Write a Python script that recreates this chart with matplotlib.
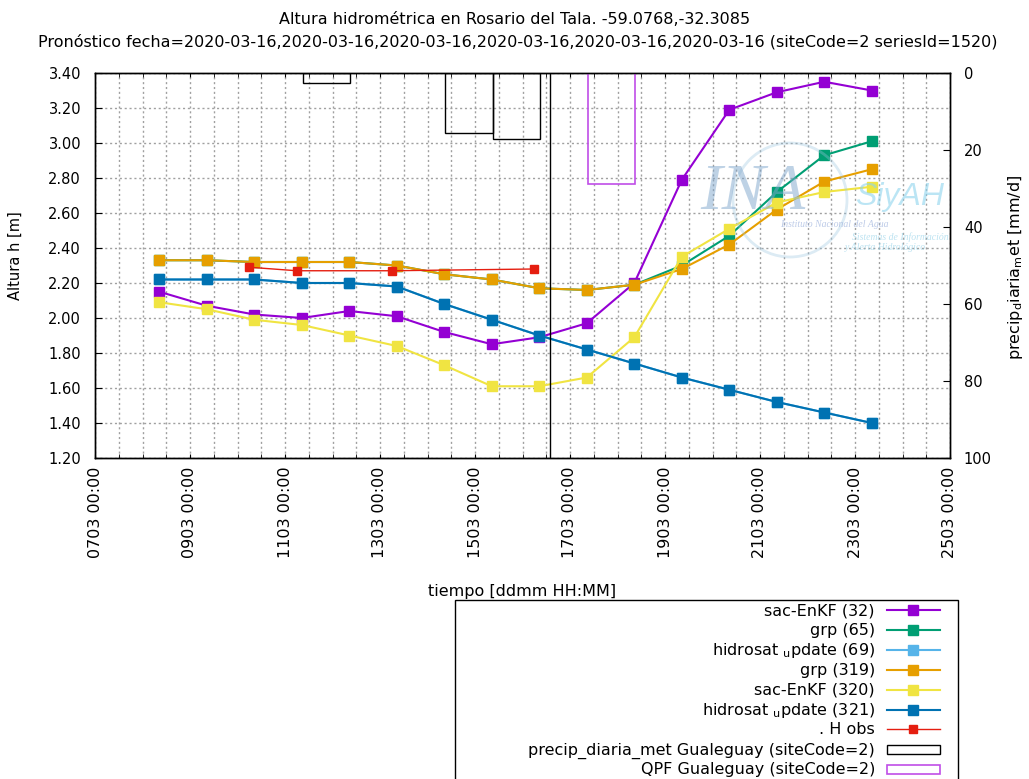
# -*- coding: utf-8 -*-
import numpy as np
import pandas as pd
import matplotlib
matplotlib.use('Agg')
from matplotlib import pyplot as plt
import matplotlib.dates as mdates
from matplotlib.lines import Line2D
from matplotlib.patches import Rectangle, Ellipse

# pronosticos (pasos diarios)
fechas = pd.date_range('2020-03-08 08:30', periods=16, freq='D')

sac_32 = [2.15, 2.07, 2.02, 2.00, 2.04, 2.01, 1.92, 1.85, 1.89, 1.97, 2.20, 2.79, 3.19, 3.29, 3.35, 3.30]
grp_319 = [2.33, 2.33, 2.32, 2.32, 2.32, 2.30, 2.25, 2.22, 2.17, 2.16, 2.19, 2.28, 2.42, 2.62, 2.78, 2.85]
grp_65 = grp_319[:11] + [2.30, 2.47, 2.72, 2.93, 3.01]
sac_320 = [2.09, 2.05, 1.99, 1.96, 1.90, 1.84, 1.73, 1.61, 1.61, 1.66, 1.89, 2.35, 2.51, 2.66, 2.72, 2.75]
hs_321 = [2.22, 2.22, 2.22, 2.20, 2.20, 2.18, 2.08, 1.99, 1.90, 1.82, 1.74, 1.66, 1.59, 1.52, 1.46, 1.40]
hs_69 = list(hs_321)

# observados
obs_fechas = pd.to_datetime(['2020-03-10 06:00', '2020-03-11 06:00', '2020-03-13 06:00', '2020-03-16 06:00'])
h_obs = [2.29, 2.27, 2.27, 2.28]

# precipitacion diaria (inicio del intervalo)
pp_inicio = pd.to_datetime(['2020-03-11 09:00', '2020-03-14 09:00', '2020-03-15 09:00'])
pp_mm = [2.7, 15.7, 17.1]
qpf_inicio = pd.to_datetime(['2020-03-17 09:00'])
qpf_mm = [28.8]

fecha_pronostico = pd.Timestamp('2020-03-16 13:50')

series = [
    ('sac-EnKF (32)', sac_32, '#9400d3'),
    ('grp (65)', grp_65, '#009e73'),
    (r'hidrosat $_{\rm u}$pdate (69)', hs_69, '#56b4e9'),
    ('grp (319)', grp_319, '#e69f00'),
    ('sac-EnKF (320)', sac_320, '#f0e442'),
    (r'hidrosat $_{\rm u}$pdate (321)', hs_321, '#0072b2'),
]
color_obs = '#e51e10'
color_qpf = '#c04ee8'

plt.rcParams['font.family'] = ['DejaVu Sans']
W, H = 1029, 779
fig = plt.figure(figsize=(W / 100, H / 100), dpi=100)
ax = fig.add_axes([95 / W, 1 - 458 / H, 855 / W, 385 / H])
ax2 = ax.twinx()

for nombre, vals, color in series:
    ax.plot(fechas, vals, color=color, lw=1.5, marker='s', ms=7, zorder=3)

ax.plot(obs_fechas, h_obs, color=color_obs, lw=1, marker='s', ms=6, zorder=4)
ax.axvline(fecha_pronostico, color='black', lw=1, zorder=5)

ax2.bar(pp_inicio, pp_mm, width=1.0, align='edge', fill=False, edgecolor='black', lw=1)
ax2.bar(qpf_inicio, qpf_mm, width=1.0, align='edge', fill=False, edgecolor=color_qpf, lw=1.2)

# ejes
ax.set_xlim(pd.Timestamp('2020-03-07'), pd.Timestamp('2020-03-25'))
ax.xaxis.set_major_locator(mdates.DayLocator(bymonthday=range(7, 26, 2)))
ax.xaxis.set_minor_locator(mdates.HourLocator(byhour=[0, 12]))
ax.xaxis.set_major_formatter(mdates.DateFormatter('%d%m %H:%M'))
ax.tick_params(axis='x', which='both', direction='in', top=True, labelrotation=90,
               labelsize=11.5, pad=6, length=3, color='black')
ax.set_ylim(1.2, 3.4)
ax.set_yticks(np.arange(1.2, 3.41, 0.2))
ax.yaxis.set_major_formatter(matplotlib.ticker.FormatStrFormatter('%.2f'))
ax.tick_params(axis='y', direction='in', right=False, labelsize=10.5, pad=10, length=5)

ax2.set_ylim(100, 0)
ax2.set_yticks(range(0, 101, 20))
ax2.tick_params(axis='y', direction='in', labelsize=10.5, pad=10, length=5)

ax.grid(which='both', axis='x', ls=(0, (1.5, 2)), color='#a0a0a0', lw=1)
ax.grid(which='major', axis='y', ls=(0, (1.5, 2)), color='#a0a0a0', lw=1)
for a in (ax, ax2):
    for s in a.spines.values():
        s.set_color('black')
        s.set_linewidth(1)

ax.set_xlabel('tiempo [ddmm HH:MM]', fontsize=11.5)
ax.xaxis.set_label_coords(0.5, -0.327)
ax.set_ylabel('Altura h [m]', fontsize=10.5)
ax.yaxis.set_label_coords(-0.085, 0.525)
ax2.set_ylabel(r'precip$_{\rm d}$iaria$_{\rm m}$et [mm/d]', fontsize=11.5)
ax2.yaxis.set_label_coords(1.066, 0.496)

fig.text(515 / W, 1 - 20 / H, 'Altura hidrométrica en Rosario del Tala. -59.0768,-32.3085',
         ha='center', va='center', fontsize=11.5)
fig.text(518 / W, 1 - 42 / H,
         'Pronóstico fecha=2020-03-16,2020-03-16,2020-03-16,2020-03-16,2020-03-16,2020-03-16 (siteCode=2 seriesId=1520)',
         ha='center', va='center', fontsize=11.5)

# marca de agua
fig.text(700 / W, 1 - 193 / H, 'INA', family='Liberation Serif', style='italic',
         fontsize=47, color='#7fa6cc', alpha=0.5, va='center', ha='left', zorder=10)
fig.text(855 / W, 1 - 197 / H, 'SiyAH', family='Liberation Sans', style='italic',
         fontsize=23, color='#8fd4ee', alpha=0.6, va='center', ha='left', zorder=10)
fig.text(780 / W, 1 - 225 / H, 'Instituto Nacional del Agua', family='Liberation Serif',
         style='italic', fontsize=7, color='#90a8d8', alpha=0.6, va='center', zorder=10)
fig.text(852 / W, 1 - 237 / H, 'Sistemas de Información', family='Liberation Serif',
         style='italic', fontsize=7, color='#90d0e8', alpha=0.6, va='center', zorder=10)
fig.text(845 / W, 1 - 248 / H, 'y Alerta Hidrológico', family='Liberation Serif',
         style='italic', fontsize=7, color='#90d0e8', alpha=0.6, va='center', zorder=10)
fig.add_artist(Ellipse((790 / W, 1 - 200 / H), 114 / W, 114 / H, fill=False,
                       edgecolor='#9cc6e0', lw=2, alpha=0.35, zorder=9))

# leyenda (estilo gnuplot: texto a la derecha, muestra a la derecha)
entradas = [(n, c, 1.5, 7, 'linea') for n, v, c in series]
entradas.append(('. H obs', color_obs, 1, 6, 'linea'))
entradas.append(('precip_diaria_met Gualeguay (siteCode=2)', 'black', 1, 0, 'caja'))
entradas.append(('QPF Gualeguay (siteCode=2)', color_qpf, 1.2, 0, 'caja'))

fig.add_artist(Rectangle((455 / W, -0.02), 503 / W, 1 - 600 / H + 0.02,
                         transform=fig.transFigure, fill=False, edgecolor='black', lw=1))
for i, (nombre, color, lw, ms, tipo) in enumerate(entradas):
    yc = 610 + 19.9 * i
    fig.text(875 / W, 1 - (yc + 5) / H, nombre, ha='right', va='baseline', fontsize=11.5)
    if tipo == 'linea':
        fig.add_artist(Line2D([887 / W, 940 / W], [1 - yc / H] * 2, color=color, lw=lw))
        fig.add_artist(Line2D([913 / W], [1 - yc / H], color=color, marker='s', ms=ms))
    else:
        fig.add_artist(Rectangle((887 / W, 1 - (yc + 4.5) / H), 53 / W, 9 / H,
                                 fill=False, edgecolor=color, lw=lw))

fig.savefig('out.png', dpi=100)
